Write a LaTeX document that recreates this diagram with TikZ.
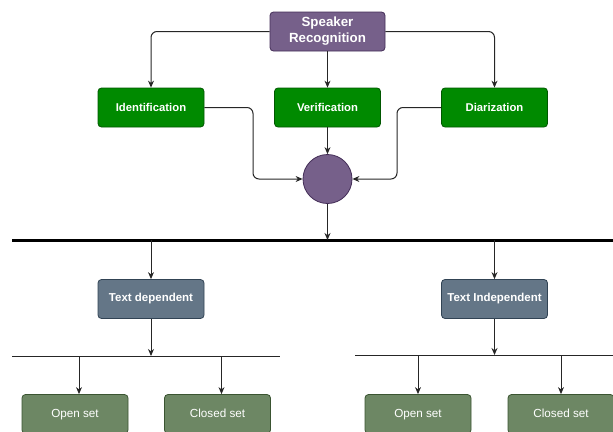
\documentclass[tikz,border=0pt]{standalone}
\usepackage{fontspec}
\setmainfont{Liberation Sans}
\usetikzlibrary{arrows.meta,positioning}
\definecolor{purpfill}{HTML}{76608A}\definecolor{purpline}{HTML}{432D57}
\definecolor{grnfill}{HTML}{008A00}\definecolor{grnline}{HTML}{005700}
\definecolor{slatefill}{HTML}{647687}\definecolor{slateline}{HTML}{314354}
\definecolor{olivefill}{HTML}{6D8764}\definecolor{oliveline}{HTML}{3A5431}
\tikzset{>={Stealth[length=7pt,width=6pt]},box/.style={draw,rounded corners=3.5pt,line width=.8pt,minimum width=106pt,minimum height=39pt,text=white,font=\bfseries\fontsize{11.3}{12}\selectfont,align=center},flow/.style={line width=1pt,->,draw=black!85},edge/.style={line width=1pt,draw=black!85}}

\begin{document}
\begin{tikzpicture}[x=1pt,y=-1pt]
\useasboundingbox (0,0) rectangle (613,431);\clip (0,0) rectangle (613,431);
\node[box,fill=purpfill,draw=purpline,minimum width=115pt,font=\bfseries\fontsize{13.3}{16}\selectfont] (sr) at (327.5,31.5){Speaker\\Recognition};
\node[box,fill=grnfill,draw=grnline] (ident) at (151,107.5){Identification};
\node[box,fill=grnfill,draw=grnline] (verif) at (327.5,107.5){Verification};
\node[box,fill=grnfill,draw=grnline] (diar) at (494.5,107.5){Diarization};
\node[circle,draw=purpline,fill=purpfill,line width=.8pt,minimum size=49pt,inner sep=0pt] (hub) at (327.5,179){};
\draw[flow,rounded corners=6pt] (sr.west) -| (ident.north);\draw[flow,rounded corners=6pt] (sr.east) -| (diar.north);\draw[flow] (sr) -- (verif);
\draw[flow,rounded corners=6pt] (ident.east) -| (253,179) -- (hub.west);\draw[flow,rounded corners=6pt] (diar.west) -| (397,179) -- (hub.east);\draw[flow] (verif) -- (hub);
\coordinate (busL) at (12,240);\coordinate (busR) at (613,240);
\draw[line width=3pt] (busL) -- (busR);\draw[flow] (hub.south) -- (hub.south |- busL);
\node[box,fill=slatefill,draw=slateline,font=\bfseries\fontsize{11.5}{12}\selectfont] (tdep) at (151,299){Text dependent};
\node[box,fill=slatefill,draw=slateline,font=\bfseries\fontsize{11.5}{12}\selectfont] (tindep) at (494.5,299){Text Independent};
\draw[flow] (tdep.north |- busL) -- (tdep);\draw[flow] (tindep.north |- busL) -- (tindep);
\coordinate (lineA) at (12,356);\coordinate (lineB) at (280,356);\coordinate (lineC) at (355,355);\coordinate (lineD) at (613,355);
\draw[edge] (lineA) -- (lineB);\draw[edge] (lineC) -- (lineD);
\draw[flow] (tdep) -- (tdep.south |- lineA);\draw[flow] (tindep) -- (tindep.south |- lineC);
\tikzset{leaf/.style={box,fill=olivefill,draw=oliveline,font=\fontsize{11.7}{12}\selectfont,text height=1.6ex,text depth=.4ex}}
\node[leaf] (openL) at (75,414){Open set};\node[leaf] (closedL) at (217.5,414){Closed set};
\node[leaf] (openR) at (418,414){Open set};\node[leaf] (closedR) at (561,414){Closed set};
\draw[flow] ([xshift=4pt]openL.north |- lineA) -- ([xshift=4pt]openL.north);\draw[flow] ([xshift=4pt]closedL.north |- lineA) -- ([xshift=4pt]closedL.north);
\draw[flow] (openR.north |- lineC) -- (openR);\draw[flow] (closedR.north |- lineC) -- (closedR);
\end{tikzpicture}
\end{document}
